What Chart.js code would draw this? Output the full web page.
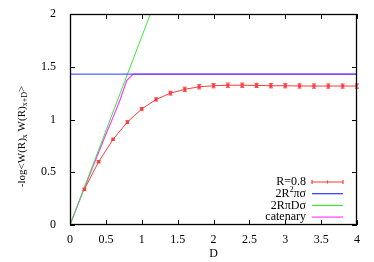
<!DOCTYPE html>
<html>
<head>
<meta charset="utf-8">
<script src="https://cdn.jsdelivr.net/npm/chart.js@4"></script>
<style>
  html, body { margin: 0; padding: 0; background: #fff; }
  #wrap { width: 374px; height: 262px; position: relative; }
</style>
</head>
<body>
<div id="wrap"><canvas id="chart"></canvas></div>
<script>
// Data
const dValues = [0.2, 0.4, 0.6, 0.8, 1.0, 1.2, 1.4, 1.6, 1.8, 2.0, 2.2, 2.4, 2.6, 2.8, 3.0, 3.2, 3.4, 3.6, 3.8, 4.0];
const rValues = [0.338, 0.60, 0.812, 0.976, 1.10, 1.19, 1.25, 1.286, 1.31, 1.32, 1.325, 1.325, 1.323, 1.32, 1.32, 1.318, 1.317, 1.317, 1.317, 1.317];
const rErrors = [0.01, 0.01, 0.01, 0.012, 0.012, 0.015, 0.018, 0.02, 0.02, 0.02, 0.02, 0.02, 0.02, 0.02, 0.02, 0.02, 0.02, 0.02, 0.02, 0.02];

const blueX = [0, 4];
const blueY = [1.43, 1.43];

const greenX = [0, 1.12];
const greenY = [0, 2.0];

const catX = [0, 0.1, 0.2, 0.3, 0.4, 0.5, 0.6, 0.7, 0.79, 0.88, 4];
const catY = [0, 0.175, 0.35, 0.52, 0.69, 0.86, 1.02, 1.19, 1.368, 1.43, 1.43];

const xTicks = [0, 0.5, 1, 1.5, 2, 2.5, 3, 3.5, 4];
const yTicks = [0, 0.5, 1, 1.5, 2];

const legendLabels = ['R=0.8', '2R\u00B2\u03C0\u03C3', '2R\u03C0D\u03C3', 'catenary'];

const RED = 'rgb(255,60,60)';
const BLUE = 'rgb(40,60,255)';
const GREEN = 'rgb(60,230,60)';
const MAGENTA = 'rgb(255,60,255)';
const FONT = '"Liberation Serif", "DejaVu Serif", serif';

function pts(xs, ys) {
    return xs.map((x, i) => ({ x: x, y: ys[i] }));
}

// error bars, inward ticks, legend, axis titles
const gnuplotStyle = {
    id: 'gnuplotStyle',
    afterDatasetsDraw(chart) {
        const ctx = chart.ctx;
        const xs = chart.scales.x, ys = chart.scales.y;
        const area = chart.chartArea;

        // error bars for R=0.8
        ctx.save();
        ctx.strokeStyle = RED;
        ctx.lineWidth = 1;
        dValues.forEach((d, i) => {
            const px = xs.getPixelForValue(d);
            const y1 = ys.getPixelForValue(rValues[i] - rErrors[i]);
            const y2 = ys.getPixelForValue(rValues[i] + rErrors[i]);
            ctx.beginPath();
            ctx.moveTo(px, y1); ctx.lineTo(px, y2);
            ctx.moveTo(px - 2, y1); ctx.lineTo(px + 2, y1);
            ctx.moveTo(px - 2, y2); ctx.lineTo(px + 2, y2);
            ctx.stroke();
        });
        ctx.restore();

        // frame and inward ticks
        ctx.save();
        ctx.strokeStyle = '#000';
        ctx.lineWidth = 1.3;
        ctx.strokeRect(area.left + 0.5, area.top + 0.5, area.right - area.left - 1, area.bottom - area.top - 1);
        ctx.lineWidth = 1;
        ctx.beginPath();
        xTicks.forEach(t => {
            const px = Math.round(xs.getPixelForValue(t)) + 0.5;
            ctx.moveTo(px, area.bottom); ctx.lineTo(px, area.bottom - 5);
            ctx.moveTo(px, area.top); ctx.lineTo(px, area.top + 5);
        });
        yTicks.forEach(t => {
            const py = Math.round(ys.getPixelForValue(t)) + 0.5;
            ctx.moveTo(area.left, py); ctx.lineTo(area.left + 5, py);
            ctx.moveTo(area.right, py); ctx.lineTo(area.right - 5, py);
        });
        ctx.stroke();
        ctx.restore();

        // legend
        ctx.save();
        const colors = [RED, BLUE, GREEN, MAGENTA];
        ctx.font = '12px ' + FONT;
        ctx.fillStyle = '#000';
        ctx.textAlign = 'right';
        ctx.textBaseline = 'middle';
        const textRight = 306;
        const lineL = 312, lineR = 343;
        legendLabels.forEach((lab, i) => {
            const y = 182 + i * 11.7;
            if (i === 1) {
                // 2R^2πσ with superscript
                ctx.font = '12px ' + FONT;
                const tail = 'πσ';
                const wTail = ctx.measureText(tail).width;
                ctx.fillText(tail, textRight, y);
                ctx.font = '8px ' + FONT;
                const wSup = ctx.measureText('2').width;
                ctx.fillText('2', textRight - wTail, y - 4);
                ctx.font = '12px ' + FONT;
                ctx.fillText('2R', textRight - wTail - wSup, y);
            } else {
                ctx.fillText(lab, textRight, y);
            }
            ctx.strokeStyle = colors[i];
            ctx.lineWidth = 1.2;
            ctx.beginPath();
            ctx.moveTo(lineL, y); ctx.lineTo(lineR, y);
            if (i === 0) {
                ctx.moveTo(lineL, y - 2); ctx.lineTo(lineL, y + 2);
                ctx.moveTo(lineR, y - 2); ctx.lineTo(lineR, y + 2);
                ctx.moveTo((lineL + lineR) / 2, y - 1.5); ctx.lineTo((lineL + lineR) / 2, y + 1.5);
            }
            ctx.stroke();
        });
        ctx.restore();

        // x-axis title
        ctx.save();
        ctx.font = '12px ' + FONT;
        ctx.fillStyle = '#000';
        ctx.textAlign = 'center';
        ctx.textBaseline = 'middle';
        ctx.fillText('D', (area.left + area.right) / 2, 254);
        ctx.restore();

        // y-axis title with subscripts
        ctx.save();
        ctx.translate(22, (area.top + area.bottom) / 2 + 17);
        ctx.rotate(-Math.PI / 2);
        ctx.fillStyle = '#000';
        ctx.textBaseline = 'middle';
        const parts = [
            ['-log<W(R)', 0, 11], ['x', 3, 8], [' W(R)', 0, 11], ['x+D', 3, 8], ['>', 0, 11]
        ];
        let total = 0;
        parts.forEach(p => { ctx.font = p[2] + 'px ' + FONT; total += ctx.measureText(p[0]).width; });
        let cx = -total / 2;
        ctx.textAlign = 'left';
        parts.forEach(p => {
            ctx.font = p[2] + 'px ' + FONT;
            ctx.fillText(p[0], cx, p[1]);
            cx += ctx.measureText(p[0]).width;
        });
        ctx.restore();
    }
};

new Chart(document.getElementById('chart').getContext('2d'), {
    type: 'line',
    data: {
        datasets: [
            {
                label: 'R=0.8',
                data: pts(dValues, rValues),
                borderColor: RED,
                backgroundColor: RED,
                borderWidth: 1,
                pointRadius: 1.5,
                pointStyle: 'rect',
                tension: 0
            },
            {
                label: '2R²πσ',
                data: pts(blueX, blueY),
                borderColor: BLUE,
                borderWidth: 1,
                pointRadius: 0
            },
            {
                label: '2RπDσ',
                data: pts(greenX, greenY),
                borderColor: GREEN,
                borderWidth: 1,
                pointRadius: 0
            },
            {
                label: 'catenary',
                data: pts(catX, catY),
                borderColor: MAGENTA,
                borderWidth: 1.2,
                pointRadius: 0
            }
        ]
    },
    options: {
        responsive: true,
        maintainAspectRatio: false,
        animation: false,
        layout: { padding: { top: 14, right: 17, left: 0, bottom: 0 } },
        plugins: {
            legend: { display: false },
            tooltip: { enabled: false }
        },
        scales: {
            x: {
                type: 'linear',
                min: 0,
                max: 4,
                afterBuildTicks: s => { s.ticks = xTicks.map(v => ({ value: v })); },
                afterFit: s => { s.height = 37; },
                grid: { display: false },
                border: { display: false },
                ticks: {
                    color: '#000',
                    padding: 0,
                    maxRotation: 0,
                    font: { family: FONT, size: 12 },
                    callback: v => String(v)
                }
            },
            y: {
                type: 'linear',
                min: 0,
                max: 2,
                afterBuildTicks: s => { s.ticks = yTicks.map(v => ({ value: v })); },
                afterFit: s => { s.width = 70; },
                grid: { display: false },
                border: { display: false },
                ticks: {
                    color: '#000',
                    padding: 6,
                    font: { family: FONT, size: 12 },
                    callback: v => String(v)
                }
            }
        }
    },
    plugins: [gnuplotStyle]
});
</script>
</body>
</html>
